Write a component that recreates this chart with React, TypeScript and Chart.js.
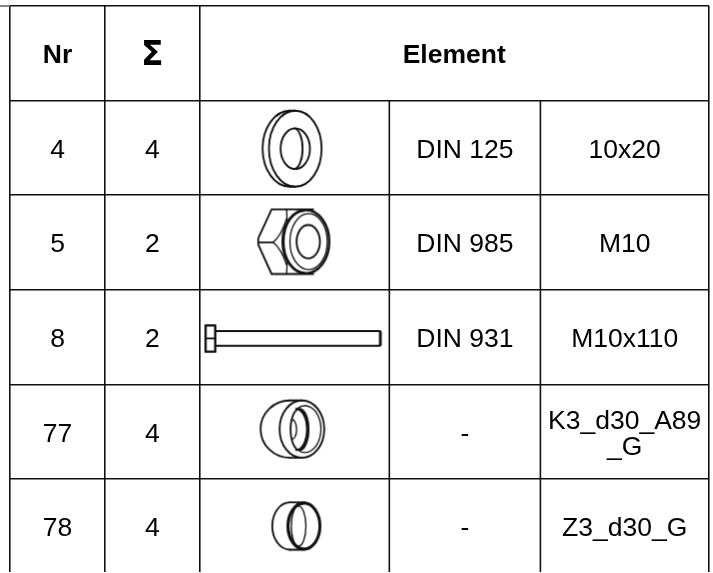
import React, { useEffect, useRef } from "react";
import { Chart, registerables } from "chart.js";

Chart.register(...registerables);

// Table content
const headerNr = "Nr";
const headerSum = "Σ";
const headerElement = "Element";
const rowNr = ["4", "5", "8", "77", "78"];
const rowSum = ["4", "2", "2", "4", "4"];
const rowStandard = ["DIN 125", "DIN 985", "DIN 931", "-", "-"];
const rowSize = ["10x20", "M10", "M10x110", "K3_d30_A89\n_G", "Z3_d30_G"];
const rowIcon = ["washer", "nut", "bolt", "reducer", "ring"];

// Table structure in column / row units
const columnEdges = [0, 1.005, 2.0, 4.005, 5.6, 7.38];
const rowEdges = [0, 1, 2, 3, 4, 5];
const tableBottom = 5.984;

const FONT = '"Liberation Sans", Arial, sans-serif';
const INK = "#111";
const RULE = 1.6;

type Ctx = CanvasRenderingContext2D;

function ell(c: Ctx, x: number, y: number, rx: number, ry: number, a0 = 0, a1 = Math.PI * 2, w = 5.5) {
  c.beginPath();
  c.lineWidth = w;
  c.ellipse(x, y, rx, ry, 0, a0, a1);
  c.stroke();
}
function poly(c: Ctx, pts: number[][], w = 5.5) {
  c.beginPath();
  c.lineWidth = w;
  pts.forEach((p, i) => (i ? c.lineTo(p[0], p[1]) : c.moveTo(p[0], p[1])));
  c.stroke();
}
const HP = Math.PI / 2;

// Glyph sketches, authored at 3x in a 570x282 cell with centre (285,141)
const glyphs: Record<string, (c: Ctx) => void> = {
  washer(c) {
    c.translate(285 - 313.5, 141 - 173.7);
    ell(c, 316, 176, 79, 114);
    ell(c, 300, 176, 82, 114, HP, HP * 3);
    poly(c, [[300, 62], [316, 62]]);
    poly(c, [[300, 290], [316, 290]]);
    ell(c, 316, 176, 44, 61);
    ell(c, 312, 176, 26, 61, -HP, HP);
  },
  nut(c) {
    c.translate(285 - 313.5, 141 - 457.5);
    poly(c, [[370, 358], [245, 358], [205, 445], [205, 464], [245, 552], [370, 552]]);
    poly(c, [[205, 457], [250, 457]]);
    poly(c, [[290, 358], [292, 395]], 4);
    poly(c, [[290, 552], [292, 515]], 4);
    c.beginPath();
    c.lineWidth = 4;
    c.moveTo(250, 457);
    c.quadraticCurveTo(275, 435, 290, 385);
    c.moveTo(250, 457);
    c.quadraticCurveTo(275, 478, 290, 525);
    c.stroke();
    ell(c, 348, 455, 70, 95, 0, Math.PI * 2, 7);
    ell(c, 344, 455, 62, 92, HP, HP * 3, 4);
    ell(c, 356, 455, 56, 84, 0, Math.PI * 2, 4);
    ell(c, 355, 455, 35, 50);
  },
  bolt(c) {
    c.translate(285 - 313.5, 141 - 141);
    poly(c, [[76, 106], [47, 106], [47, 185], [76, 185], [76, 106]], 7);
    poly(c, [[47, 145], [76, 145]], 5);
    poly(c, [[76, 123], [570, 123], [570, 167], [76, 167]], 6);
    poly(c, [[572, 126], [572, 164]], 7);
  },
  reducer(c) {
    c.translate(285 - 313.5, 141 - 424.8);
    ell(c, 336, 417, 67, 86);
    ell(c, 300, 417, 88, 86, HP, HP * 3);
    poly(c, [[300, 331], [336, 331]]);
    poly(c, [[300, 503], [336, 503]]);
    ell(c, 329, 418, 27, 62);
    ell(c, 322, 418, 30, 62, -HP, HP, 5);
    ell(c, 318, 418, 33, 62, -HP, HP, 5);
    ell(c, 306, 418, 14, 30, -HP, HP, 4);
    ell(c, 345, 417, 48, 70, -HP * 1.3, HP * 1.3, 4);
  },
  ring(c) {
    c.translate(285 - 313.5, 141 - 708.6);
    ell(c, 300, 708, 53, 71, HP, HP * 3);
    poly(c, [[300, 637], [345, 637]]);
    poly(c, [[300, 779], [345, 779]]);
    ell(c, 342, 708, 48, 69, 0, Math.PI * 2, 9);
    ell(c, 338, 708, 42, 66, HP, HP * 3, 5);
    ell(c, 326, 708, 22, 60, 0, Math.PI * 2, 4);
  },
};

function makeGlyph(name: string): HTMLCanvasElement {
  const cv = document.createElement("canvas");
  cv.width = 190;
  cv.height = 94;
  const c = cv.getContext("2d") as Ctx;
  c.scale(1 / 3, 1 / 3);
  c.strokeStyle = INK;
  c.lineCap = "round";
  c.lineJoin = "round";
  glyphs[name](c);
  return cv;
}

const tableText = {
  id: "tableText",
  afterDatasetsDraw(chart: any) {
    const { ctx, scales } = chart;
    const x = scales.x;
    const y = scales.y;
    const midX = (a: number, b: number) => (x.getPixelForValue(columnEdges[a]) + x.getPixelForValue(columnEdges[b])) / 2;
    const midY = (a: number, b: number) => (y.getPixelForValue(a) + y.getPixelForValue(b)) / 2;
    ctx.save();
    ctx.fillStyle = "#000";
    ctx.textAlign = "center";
    ctx.textBaseline = "alphabetic";

    const put = (t: string, cx: number, cy: number, lh = 26) => {
      const ls = t.split("\n");
      ls.forEach((l, i) => ctx.fillText(l, cx, cy + (i - (ls.length - 1) / 2) * lh + 10));
    };

    const hy = midY(0, 1);
    ctx.font = `bold 26.5px ${FONT}`;
    put(headerNr, midX(0, 1), hy);
    put(headerElement, midX(2, 5), hy);
    ctx.font = `bold 33px "DejaVu Sans"`;
    put(headerSum, midX(1, 2), hy + 2);

    ctx.font = `26.5px ${FONT}`;
    rowNr.forEach((_, i) => {
      const cy = midY(i + 1, i + 2);
      put(rowNr[i], midX(0, 1), cy);
      put(rowSum[i], midX(1, 2), cy);
      put(rowStandard[i], midX(3, 4), cy);
      put(rowSize[i], midX(4, 5), cy);
    });
    ctx.restore();
  },
};

export default function App() {
  const ref = useRef<HTMLCanvasElement>(null);
  useEffect(() => {
    document.body.style.margin = "0";
    document.body.style.background = "#fff";
    const chart = new Chart(ref.current as HTMLCanvasElement, {
      type: "scatter",
      data: {
        datasets: [
          ...[columnEdges[3], columnEdges[4]].map((col) => ({
            label: "Divider",
            data: [{ x: col, y: rowEdges[1] }, { x: col, y: tableBottom }],
            showLine: true,
            pointRadius: 0,
            borderColor: INK,
            borderWidth: RULE,
          })),
          {
            label: "Top rule stub",
            data: [{ x: -0.106, y: 0 }, { x: 0, y: 0 }],
            showLine: true,
            pointRadius: 0,
            borderColor: "#666",
            borderWidth: RULE,
            clip: false,
          },
          {
            label: "Elements",
            data: rowIcon.map((_, i) => ({ x: (columnEdges[2] + columnEdges[3]) / 2, y: rowEdges[i + 1] + 0.5 })),
            pointStyle: rowIcon.map(makeGlyph),
            pointRadius: 5,
            showLine: false,
          },
        ] as any,
      },
      options: {
        animation: false,
        responsive: false,
        events: [],
        layout: { autoPadding: false, padding: { left: 10, top: 6, right: 4, bottom: 1 } },
        plugins: { legend: { display: false }, tooltip: { enabled: false }, title: { display: false } },
        scales: {
          x: {
            type: "linear",
            min: 0,
            max: columnEdges[5],
            afterBuildTicks: (s: any) => {
              s.ticks = [columnEdges[0], columnEdges[1], columnEdges[2], columnEdges[5]].map((value) => ({ value }));
            },
            afterFit: (s: any) => {
              s.height = 0;
            },
            ticks: { display: false },
            border: { display: false },
            grid: { color: INK, lineWidth: RULE, drawTicks: false, tickLength: 0 },
          },
          y: {
            type: "linear",
            reverse: true,
            min: 0,
            max: tableBottom,
            afterBuildTicks: (s: any) => {
              s.ticks = rowEdges.map((value) => ({ value }));
            },
            afterFit: (s: any) => {
              s.width = 0;
            },
            ticks: { display: false },
            border: { display: false },
            grid: { color: INK, lineWidth: RULE, drawTicks: false, tickLength: 0 },
          },
        },
      } as any,
      plugins: [tableText],
    });
    return () => chart.destroy();
  }, []);
  return <canvas ref={ref} width={713} height={573} style={{ display: "block" }} />;
}
